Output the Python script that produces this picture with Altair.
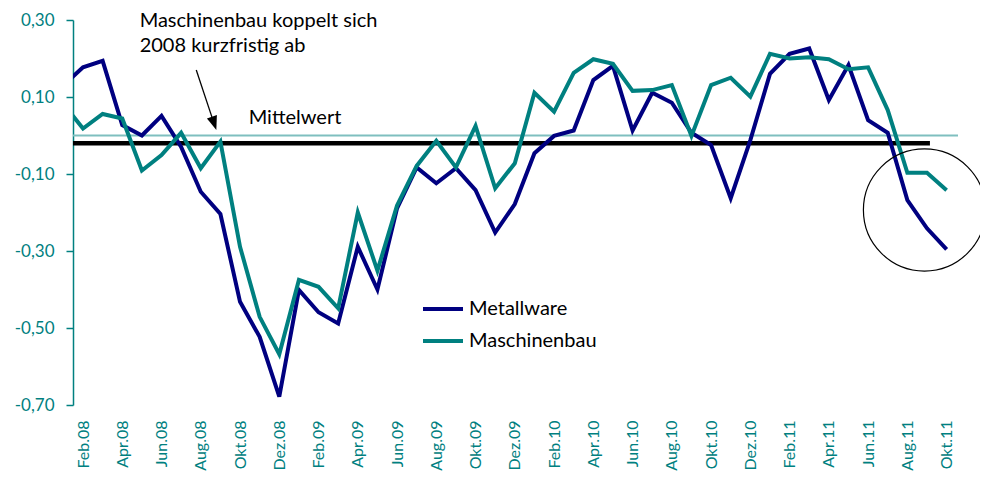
import altair as alt
import pandas as pd

# Month index: -1 = Jan.08 (clipped at left edge), 0 = Feb.08 ... 44 = Okt.11
month_labels = ["Feb.08", "Mär.08", "Apr.08", "Mai.08", "Jun.08", "Jul.08", "Aug.08", "Sep.08", "Okt.08", "Nov.08", "Dez.08",
                "Jan.09", "Feb.09", "Mär.09", "Apr.09", "Mai.09", "Jun.09", "Jul.09", "Aug.09", "Sep.09", "Okt.09", "Nov.09", "Dez.09",
                "Jan.10", "Feb.10", "Mär.10", "Apr.10", "Mai.10", "Jun.10", "Jul.10", "Aug.10", "Sep.10", "Okt.10", "Nov.10", "Dez.10",
                "Jan.11", "Feb.11", "Mär.11", "Apr.11", "Mai.11", "Jun.11", "Jul.11", "Aug.11", "Sep.11", "Okt.11"]
months = list(range(-1, 45))

metallware = [0.130, 0.177, 0.194, 0.027, 0.000, 0.051, -0.030, -0.146, -0.204, -0.432, -0.523,
              -0.678, -0.401, -0.459, -0.488, -0.289, -0.400, -0.189, -0.083, -0.124, -0.085, -0.142,
              -0.252, -0.178, -0.046, -0.001, 0.013, 0.144, 0.181, 0.013, 0.111, 0.085, 0.007,
              -0.025, -0.163, -0.012, 0.160, 0.212, 0.226, 0.092, 0.183, 0.040, 0.007, -0.168,
              -0.241, -0.296]
maschinenbau = [0.082, 0.018, 0.056, 0.044, -0.091, -0.051, 0.007, -0.085, -0.016, -0.289, -0.471,
                -0.568, -0.375, -0.393, -0.449, -0.200, -0.351, -0.182, -0.079, -0.014, -0.083, 0.025,
                -0.137, -0.072, 0.111, 0.062, 0.163, 0.198, 0.186, 0.116, 0.118, 0.131, -0.001,
                0.131, 0.150, 0.101, 0.212, 0.200, 0.203, 0.198, 0.172, 0.177, 0.066, -0.097,
                -0.097, -0.142]

x_min, x_max = -0.51, 44.58
mittelwert = -0.0203
mittel_end = 43.15

df = pd.DataFrame({
    "m": months * 2,
    "value": metallware + maschinenbau,
    "series": ["Metallware"] * len(months) + ["Maschinenbau"] * len(months),
})

FONT = "Lato"
TEAL = "#008080"
NAVY = "#000080"

xs = alt.Scale(domain=[x_min, x_max], nice=False, zero=False)
ys = alt.Scale(domain=[-0.7, 0.3], nice=False, zero=False)

label_array = "[" + ",".join("'" + l + "'" for l in month_labels) + "]"

x_axis = alt.Axis(values=list(range(0, 45, 2)), labelExpr=label_array + "[datum.value]",
                  labelAngle=270, labelPadding=15, domain=False, ticks=False, grid=False,
                  labelColor=TEAL, labelFontSize=16, labelFont=FONT, title=None)
y_axis = alt.Axis(values=[0.3, 0.1, -0.1, -0.3, -0.5, -0.7],
                  labelExpr="(datum.value < 0 ? '-' : '') + replace(format(abs(datum.value), '.2f'), '.', ',')",
                  domainColor=TEAL, tickColor=TEAL, tickSize=7, labelColor=TEAL, labelFontSize=17,
                  labelFont=FONT, labelPadding=12, grid=False, title=None, domainWidth=1.5, tickWidth=1.5)

zero_line = alt.Chart(pd.DataFrame({"x": [x_min], "x2": [x_max], "y": [0.0]})).mark_rule(
    color="#7FBFBF", strokeWidth=2).encode(
    x=alt.X("x:Q", scale=xs, axis=x_axis), x2="x2:Q", y=alt.Y("y:Q", scale=ys, axis=y_axis))

mean_line = alt.Chart(pd.DataFrame({"x": [x_min], "x2": [mittel_end], "y": [mittelwert]})).mark_rule(
    color="black", strokeWidth=4.5).encode(x=alt.X("x:Q", scale=xs), x2="x2:Q", y=alt.Y("y:Q", scale=ys))

lines = alt.Chart(df).mark_line(strokeWidth=4, clip=True).encode(
    x=alt.X("m:Q", scale=xs),
    y=alt.Y("value:Q", scale=ys),
    color=alt.Color("series:N", scale=alt.Scale(domain=["Metallware", "Maschinenbau"], range=[NAVY, TEAL]),
                    legend=alt.Legend(title=None, orient="none", legendX=348, legendY=267,
                                      symbolType="stroke", symbolSize=1600, symbolStrokeWidth=4,
                                      labelFontSize=20, labelFont=FONT, labelColor="black",
                                      rowPadding=-3, labelOffset=4)),
)

circle = alt.Chart(pd.DataFrame({"x": [42.87], "y": [-0.1935]})).mark_point(
    shape="circle", filled=False, color="black", strokeWidth=1.2, size=14900, opacity=1).encode(
    x=alt.X("x:Q", scale=xs), y=alt.Y("y:Q", scale=ys))

arrow_line = alt.Chart(pd.DataFrame({"x": [5.77], "x2": [6.62], "y": [0.170], "y2": [0.04]})).mark_rule(
    color="black", strokeWidth=1.3).encode(
    x=alt.X("x:Q", scale=xs), x2="x2:Q", y=alt.Y("y:Q", scale=ys), y2="y2:Q")

arrow_head = alt.Chart(pd.DataFrame({"x": [6.68], "y": [0.0314]})).mark_point(
    shape="M-0.75,-1L0.75,-1L0,1Z", filled=True, color="black", size=196, angle=341.6, opacity=1).encode(
    x=alt.X("x:Q", scale=xs), y=alt.Y("y:Q", scale=ys))

texts = alt.Chart(pd.DataFrame({
    "x": [2.885, 2.885, 8.44],
    "y": [0.283, 0.218, 0.030],
    "t": ["Maschinenbau koppelt sich", "2008 kurzfristig ab", "Mittelwert"],
})).mark_text(align="left", baseline="alphabetic", fontSize=20, font=FONT, color="black").encode(
    x=alt.X("x:Q", scale=xs), y=alt.Y("y:Q", scale=ys), text="t:N")

chart = alt.layer(zero_line, mean_line, lines, circle, arrow_line, arrow_head, texts).properties(
    width=885, height=385,
    autosize=alt.AutoSizeParams(type="none"),
    padding={"left": 65, "top": 12, "right": 22, "bottom": 67},
).configure_view(stroke=None)

chart.save("out.html", embed_options={"renderer": "svg", "actions": False})
